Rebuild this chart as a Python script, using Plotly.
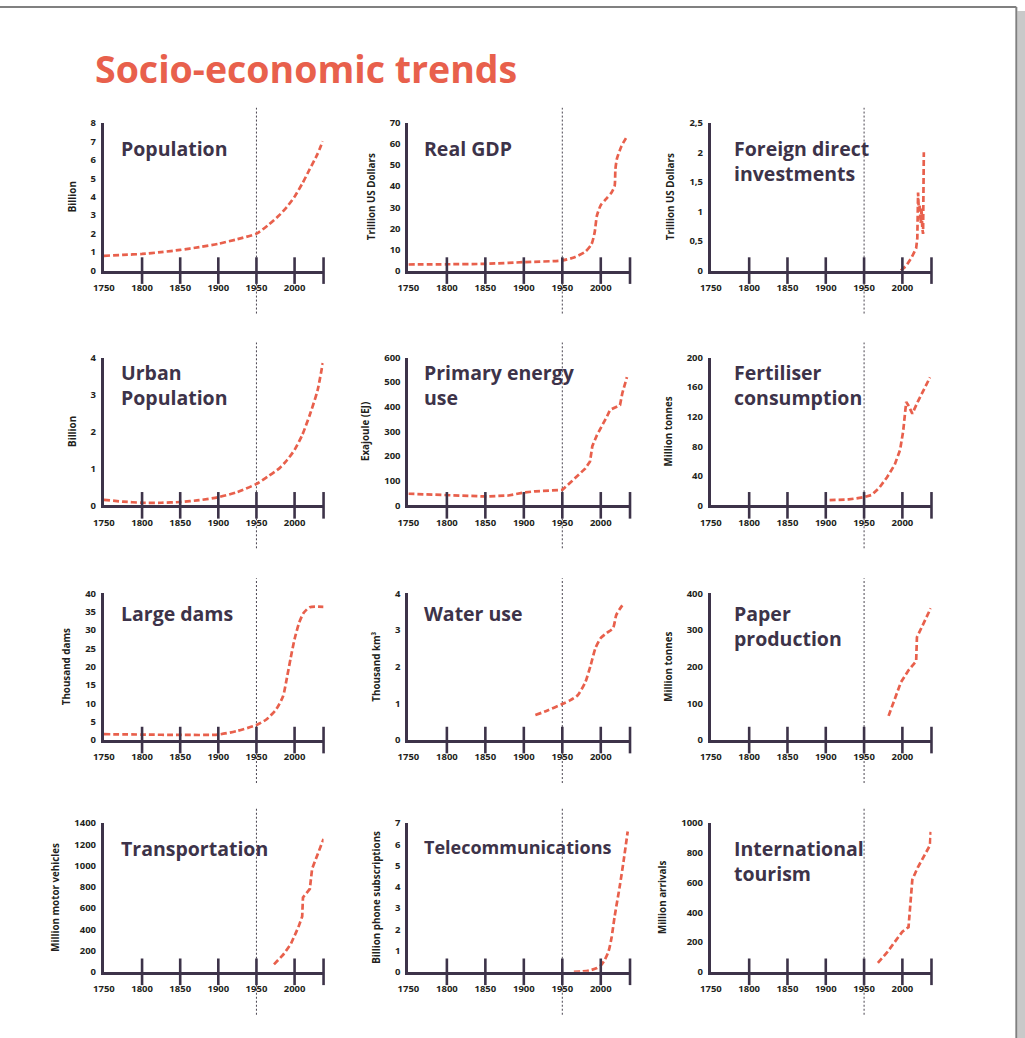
import plotly.graph_objects as go

# ---------------- data ----------------
pop_years = [1750, 1775, 1800, 1825, 1850, 1875, 1900, 1925, 1950, 1965, 1980, 1990, 2000, 2010, 2020, 2030, 2037]
pop_values = [0.8, 0.85, 0.9, 1.0, 1.12, 1.27, 1.45, 1.7, 2.0, 2.45, 3.0, 3.45, 4.0, 4.7, 5.5, 6.3, 7.0]

gdp_years = [1750, 1800, 1850, 1900, 1950, 1965, 1980, 1988, 1992, 1995, 2000, 2007, 2014, 2018, 2019, 2021, 2027, 2034]
gdp_values = [2.9, 3.0, 3.2, 4.0, 4.8, 6.2, 9.0, 12.5, 18, 26, 31, 34, 37, 40, 48, 53, 59, 63.5]

fdi_years = [1998, 2005, 2012, 2018, 2019.5, 2020.5, 2021.5, 2022.5, 2024, 2025, 2026, 2027, 2028]
fdi_values = [0.0, 0.08, 0.22, 0.38, 0.55, 1.32, 1.0, 1.1, 0.8, 1.05, 0.72, 0.62, 2.0]

urban_years = [1750, 1775, 1800, 1825, 1850, 1875, 1900, 1925, 1950, 1965, 1980, 1990, 2000, 2010, 2020, 2030, 2037]
urban_values = [0.15, 0.1, 0.07, 0.07, 0.09, 0.14, 0.22, 0.36, 0.58, 0.78, 1.0, 1.22, 1.5, 1.9, 2.45, 3.1, 3.85]

energy_years = [1750, 1800, 1850, 1880, 1900, 1915, 1950, 1963, 1980, 1986, 1989, 1995, 2000, 2008, 2012, 2020, 2025, 2028, 2034]
energy_values = [47, 40, 36, 40, 52, 57, 63, 100, 150, 178, 240, 285, 313, 360, 387, 400, 407, 455, 520]

fert_years = [1905, 1930, 1950, 1960, 1970, 1980, 1990, 1997, 2001, 2005, 2008, 2013, 2020, 2036]
fert_values = [7, 8, 11, 14, 24, 38, 55, 75, 100, 140, 135, 124, 140, 173]

dams_years = [1750, 1800, 1850, 1900, 1925, 1950, 1963, 1976, 1985, 1990, 1995, 2000, 2006, 2012, 2020, 2038]
dams_values = [1.6, 1.5, 1.4, 1.5, 2.5, 4.1, 5.6, 8.4, 12, 17, 22.5, 27.5, 32, 34.7, 36.2, 36.3]

water_years = [1915, 1930, 1950, 1960, 1970, 1980, 1987, 1993, 2000, 2008, 2016, 2020, 2024, 2029]
water_values = [0.68, 0.8, 0.98, 1.08, 1.22, 1.58, 2.05, 2.5, 2.78, 2.92, 3.05, 3.4, 3.55, 3.7]

paper_years = [1982, 1990, 1998, 2008, 2018, 2019, 2028, 2037]
paper_values = [66, 112, 157, 190, 215, 280, 320, 359]

transport_years = [1973, 1985, 1995, 2005, 2010, 2011, 2020, 2023, 2038]
transport_values = [70, 160, 260, 420, 520, 700, 780, 970, 1250]

telecom_years = [1965, 1975, 1985, 1995, 2000, 2005, 2010, 2014, 2018, 2025, 2030, 2035]
telecom_values = [0.0, 0.01, 0.06, 0.18, 0.3, 0.55, 0.95, 1.6, 2.6, 4.1, 5.3, 6.6]

tourism_years = [1968, 1980, 1990, 2000, 2008, 2011, 2013, 2020, 2033, 2036, 2037]
tourism_values = [60, 130, 200, 270, 300, 500, 620, 700, 830, 850, 940]

x_tick_labels = [1750, 1800, 1850, 1900, 1950, 2000]
x_tick_marks = [1800, 1850, 1900, 1950, 2000, 2038]
x_range = [1750, 2038]
marker_year = 1950

panel_titles = ["Population", "Real GDP", "Foreign direct<br>investments",
                "Urban<br>Population", "Primary energy<br>use", "Fertiliser<br>consumption",
                "Large dams", "Water use", "Paper<br>production",
                "Transportation", "Telecommunications", "International<br>tourism"]
y_titles = ["Billion", "Trillion US Dollars", "Trillion US Dollars",
            "Billion", "Exajoule (EJ)", "Million tonnes",
            "Thousand dams", "Thousand km³", "Million tonnes",
            "Million motor vehicles", "Billion phone subscriptions", "Million arrivals"]
y_maxes = [8, 70, 2.5, 4, 600, 200, 40, 4, 400, 1400, 7, 1000]
y_steps = [1, 10, 0.5, 1, 100, 40, 5, 1, 100, 200, 1, 200]
fdi_tick_text = ["0", "0,5", "1", "1,5", "2", "2,5"]

series = [(pop_years, pop_values), (gdp_years, gdp_values), (fdi_years, fdi_values),
          (urban_years, urban_values), (energy_years, energy_values), (fert_years, fert_values),
          (dams_years, dams_values), (water_years, water_values), (paper_years, paper_values),
          (transport_years, transport_values), (telecom_years, telecom_values),
          (tourism_years, tourism_values)]
line_shapes = ["spline", "spline", "linear", "spline", "linear", "linear",
               "spline", "spline", "linear", "linear", "spline", "linear"]

# ---------------- layout geometry ----------------
W, H = 1025, 1038
# target positions (pixels in the finished picture)
COL_PX = [(103, 323), (408, 630), (711, 932)]
ROW_PX = [(122, 270), (357, 505), (593, 740), (823, 972)]
TITLE_DX = [15, 14, 21]
TITLE_DY = [10, -1, 5, 10]   # top of first text line below the plot top

# the photographed page comes out slightly scaled/offset; pre-compensate
SX, OX = 0.991, 9.9
SY, OY = 0.9886, 6.1


def px(x):
    return (x - OX) / SX / W


def py(y):
    return 1 - (y - OY) / SY / H


DARK = "#3d3349"
TEXT = "#231f20"
CORAL = "#e8604c"
FONT = "Open Sans"

fig = go.Figure()
layout = dict(
    width=W, height=H, margin=dict(l=0, r=0, t=0, b=0),
    paper_bgcolor="white", plot_bgcolor="white", showlegend=False,
    font=dict(family=FONT, color=TEXT),
)
annotations = []
shapes = []

for i in range(12):
    r, c = divmod(i, 3)
    n = "" if i == 0 else str(i + 1)
    xa, ya = "x" + n, "y" + n
    x0, x1 = COL_PX[c]
    top, bot = ROW_PX[r]
    xdom = [px(x0), px(x1)]
    ydom = [py(bot), py(top)]

    yvals = []
    v = 0.0
    while v <= y_maxes[i] + 1e-9:
        yvals.append(round(v, 4))
        v += y_steps[i]
    ytext = fdi_tick_text if i == 2 else [f"{int(t)}" if float(t).is_integer() else str(t) for t in yvals]

    layout["xaxis" + n] = dict(
        domain=xdom, anchor=ya, range=x_range, showgrid=False, zeroline=False,
        showline=True, linecolor=DARK, linewidth=3,
        tickvals=x_tick_labels, ticktext=[str(t) for t in x_tick_labels],
        ticks="outside", ticklen=6, tickcolor="rgba(0,0,0,0)",
        tickfont=dict(size=9.5, color=TEXT, family=FONT, weight="bold"),
        fixedrange=True,
    )
    layout["yaxis" + n] = dict(
        domain=ydom, anchor=xa, range=[0, y_maxes[i]], showgrid=False, zeroline=False,
        showline=True, linecolor=DARK, linewidth=3,
        tickvals=yvals, ticktext=ytext,
        ticks="outside", ticklen=3, tickcolor="rgba(0,0,0,0)",
        tickfont=dict(size=9.5, color=TEXT, family=FONT, weight="bold"),
        title=dict(text=y_titles[i], standoff=13,
                   font=dict(size=9.8, color=TEXT, family=FONT, weight="bold")),
        fixedrange=True,
    )

    yrs, vals = series[i]
    fig.add_trace(go.Scatter(
        x=yrs, y=vals, xaxis=xa, yaxis=ya, mode="lines",
        line=dict(color=CORAL, width=2.7, dash="6px,3px", shape=line_shapes[i], smoothing=0.6),
        hoverinfo="skip",
    ))
    fig.add_trace(go.Scatter(
        x=x_tick_marks, y=[0] * len(x_tick_marks), xaxis=xa, yaxis=ya, mode="markers",
        marker=dict(symbol="line-ns", size=19, color=DARK, line=dict(width=2.6, color=DARK)),
        cliponaxis=False, hoverinfo="skip",
    ))

    # 1950 reference line (mapped through the axis range into paper coords)
    xp = xdom[0] + (marker_year - x_range[0]) / (x_range[1] - x_range[0]) * (xdom[1] - xdom[0])
    shapes.append(dict(type="line", xref="paper", yref="paper", x0=xp, x1=xp,
                       y0=py(bot + 43), y1=py(top - 15),
                       line=dict(color="#4a4550", width=1, dash="2px,2px"), layer="below"))

    # panel title
    size = 18 if panel_titles[i] == "Telecommunications" else 19.5
    annotations.append(dict(
        text=panel_titles[i], xref="paper", yref="paper",
        x=px(x0 + TITLE_DX[c]), y=py(top + TITLE_DY[r]),
        xanchor="left", yanchor="top", align="left", showarrow=False,
        font=dict(size=size, color=DARK, family=FONT, weight="bold"),
    ))

# main title
annotations.append(dict(
    text="Socio-economic trends", xref="paper", yref="paper",
    x=px(92), y=py(68), xanchor="left", yanchor="middle", showarrow=False,
    font=dict(size=37.5, color=CORAL, family=FONT, weight="bold"),
))

# page frame (document edge)
shapes.append(dict(type="rect", xref="paper", yref="paper",
                   x0=px(1018), x1=1.02, y0=-0.02, y1=py(10),
                   fillcolor="#c9c9c9", line=dict(width=0), layer="below"))
shapes.append(dict(type="line", xref="paper", yref="paper",
                   x0=-0.02, x1=px(1017), y0=py(6), y1=py(6),
                   line=dict(color="#808080", width=2)))
shapes.append(dict(type="line", xref="paper", yref="paper",
                   x0=px(1017), x1=px(1017), y0=-0.02, y1=py(6),
                   line=dict(color="#808080", width=2)))

layout["annotations"] = annotations
layout["shapes"] = shapes
fig.update_layout(**layout)

fig.write_html(
    "out.html",
    config={"displayModeBar": False},
    post_script=("document.body.style.margin='0';"
                 "document.body.style.padding='0';"
                 "document.body.style.overflow='hidden';"
                 "document.documentElement.style.overflow='hidden';"),
)
